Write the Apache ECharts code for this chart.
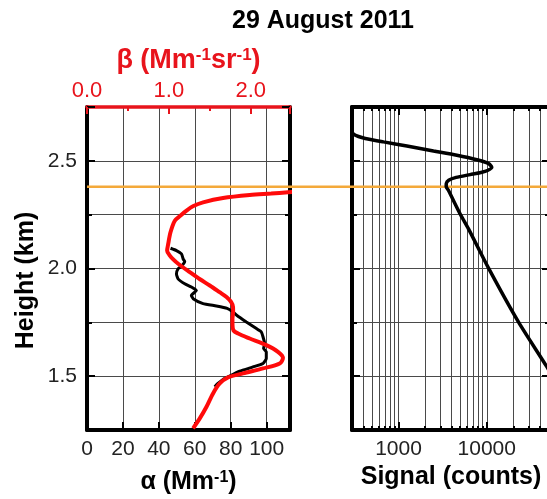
<!DOCTYPE html>
<html>
<head>
<meta charset="utf-8">
<script src="https://cdn.jsdelivr.net/npm/echarts@6/dist/echarts.min.js"></script>
<style>
  html, body { margin: 0; padding: 0; background: #fff; }
  #chart { width: 547px; height: 499px; }
</style>
</head>
<body>
<div id="chart"></div>
<script>
// Extinction coefficient profile, α (Mm^-1) against height (km)
const alphaHeight = [2.094, 2.083, 2.068, 2.045, 2.032, 2.011, 1.999, 1.975, 1.952, 1.929, 1.914, 1.898,
  1.875, 1.860, 1.837, 1.826, 1.815, 1.800, 1.782, 1.752, 1.721, 1.706, 1.682, 1.651, 1.628, 1.613,
  1.582, 1.559, 1.543, 1.523, 1.497, 1.485, 1.466, 1.451];
const alphaValue = [46.5, 49.8, 52.6, 53.5, 54.4, 52.6, 50.7, 49.8, 50.7, 54.4, 58.1, 60.9,
  58.1, 59.1, 64.6, 72.0, 78.0, 81.0, 83.5, 88.7, 94.3, 97.0, 98.0, 98.9, 98.3, 99.8,
  99.8, 98.0, 92.4, 85.0, 78.5, 75.7, 72.9, 71.1];

// Backscatter coefficient profile, β (Mm^-1 sr^-1)
const betaHeight = [2.358, 2.354, 2.348, 2.341, 2.327, 2.307, 2.290, 2.269, 2.245, 2.222, 2.168, 2.114,
  2.083, 2.060, 2.040, 2.022, 1.983, 1.950, 1.921, 1.890, 1.868, 1.845, 1.821, 1.800, 1.767, 1.735,
  1.712, 1.698, 1.675, 1.644, 1.613, 1.585, 1.559, 1.536, 1.513, 1.494, 1.466, 1.420, 1.358, 1.304, 1.258];
const betaValue = [2.60, 2.455, 2.25, 1.988, 1.662, 1.418, 1.30, 1.216, 1.14, 1.073, 1.020, 0.992,
  0.979, 1.012, 1.06, 1.114, 1.256, 1.38, 1.50, 1.62, 1.704, 1.76, 1.784, 1.785, 1.777, 1.778,
  1.79, 1.846, 1.988, 2.191, 2.333, 2.394, 2.354, 2.150, 1.906, 1.723, 1.622, 1.540, 1.460, 1.378, 1.296];

// Range-corrected lidar signal (counts)
const signalHeight = [2.640, 2.624, 2.613, 2.604, 2.588, 2.569, 2.546, 2.526, 2.505, 2.488, 2.470, 2.455,
  2.446, 2.436, 2.423, 2.410, 2.395, 2.381, 2.361, 2.253, 2.184, 2.003, 1.752, 1.544, 1.500];
const signalCounts = [290, 309, 352, 420, 676, 1245, 2490, 4580, 7720, 10400, 11400, 10200,
  8600, 6500, 4500, 3700, 3480, 3470, 3700, 5000, 6210, 10440, 22850, 47900, 55000];

// Cloud base height (km)
const cloudBase = [2.38];

// Axis ranges and labelled ticks
const heightRange = [1.25, 2.75];
const heightLabels = [1.5, 2.0, 2.5];
const alphaRange = [0, 113];
const alphaLabels = [0, 20, 40, 60, 80, 100];
const betaRange = [0, 2.48];
const betaLabels = [0, 1, 2];
const signalRange = [297, 52100];
const signalLabels = [1000, 10000];

const FONT = '"Liberation Sans", Arial, Helvetica, sans-serif';
const INK = '#000';
const LABEL = '#222';
const RED = '#ff0a0a';
const AXIS_RED = '#e8141c';
const ORANGE = '#f4a93a';
const GRID_LINE = { color: '#4a4a4a', width: 1 };

const zip = (xs, ys) => xs.map((x, i) => [x, ys[i]]);
const near = (v, list) => list.some(t => Math.abs(t - v) < 1e-6 * Math.max(1, Math.abs(t)));

const boldName = (size) => ({
  fontFamily: FONT,
  rich: {
    b: { fontFamily: FONT, fontWeight: 'bold', fontSize: size, color: 'inherit' },
    s: { fontFamily: FONT, fontWeight: 'bold', fontSize: Math.round(size * 0.64), verticalAlign: 'top' }
  }
});

function heightAxis(gridIndex, position, withLabels, withGrid) {
  return {
    type: 'value', gridIndex, position,
    min: heightRange[0], max: heightRange[1], splitNumber: 3,
    axisLine: { show: true, onZero: false, lineStyle: { color: INK, width: 4 } },
    axisTick: { show: true, inside: true, length: 8, lineStyle: { color: INK, width: 2 } },
    minorTick: { show: true, splitNumber: 2, length: 5, lineStyle: { color: INK, width: 2 } },
    splitLine: { show: withGrid, lineStyle: GRID_LINE },
    minorSplitLine: { show: withGrid, lineStyle: GRID_LINE },
    axisLabel: {
      show: withLabels, margin: 10, fontSize: 21, fontFamily: FONT, color: LABEL,
      showMinLabel: true, showMaxLabel: true,
      formatter: v => near(v, heightLabels) ? v.toFixed(1) : ''
    }
  };
}

function signalAxis(position, withLabels, withGrid) {
  return {
    type: 'log', logBase: 10, gridIndex: 1, position,
    min: signalRange[0], max: signalRange[1],
    axisLine: { show: true, onZero: false, lineStyle: { color: INK, width: 4 } },
    axisTick: { show: true, inside: true, length: 8, lineStyle: { color: INK, width: 2 } },
    minorTick: { show: true, splitNumber: 9, length: 4, lineStyle: { color: INK, width: 2 } },
    splitLine: { show: withGrid, lineStyle: GRID_LINE },
    minorSplitLine: { show: withGrid, lineStyle: GRID_LINE },
    axisLabel: {
      show: withLabels, margin: 9, fontSize: 21, fontFamily: FONT, color: LABEL,
      formatter: v => near(v, signalLabels) ? String(Math.round(v)) : ''
    }
  };
}

const option = {
  animation: false,
  backgroundColor: '#fff',
  title: {
    text: '29 August 2011',
    left: 318, top: 4, textAlign: 'center',
    textStyle: { fontFamily: FONT, fontWeight: 'bold', fontSize: 25, color: INK }
  },
  grid: [
    { left: 87, top: 107, width: 203, height: 323, outerBoundsMode: 'none' },
    { left: 352, top: 107, width: 198, height: 323, outerBoundsMode: 'none' },
    { left: 87, top: 107, width: 463, height: 323, outerBoundsMode: 'none' }
  ],
  xAxis: [
    {
      type: 'value', gridIndex: 0, position: 'bottom',
      min: alphaRange[0], max: alphaRange[1], interval: 20,
      axisLine: { show: true, onZero: false, lineStyle: { color: INK, width: 4 } },
      axisTick: { show: true, inside: true, length: 8, lineStyle: { color: INK, width: 2 } },
      splitLine: { show: true, lineStyle: GRID_LINE },
      axisLabel: {
        margin: 9, fontSize: 21, fontFamily: FONT, color: LABEL,
        formatter: v => near(v, alphaLabels) ? String(v) : ''
      },
      name: '{b|α (Mm}{s|-1}{b|)}',
      nameLocation: 'middle', nameGap: 40,
      nameTextStyle: boldName(25)
    },
    {
      type: 'value', gridIndex: 0, position: 'top',
      min: betaRange[0], max: betaRange[1], interval: 1,
      axisLine: { show: true, onZero: false, lineStyle: { color: AXIS_RED, width: 3.5 } },
      axisTick: { show: true, inside: true, length: 7, lineStyle: { color: AXIS_RED, width: 2 } },
      minorTick: { show: true, splitNumber: 2, length: 4, lineStyle: { color: AXIS_RED, width: 2 } },
      splitLine: { show: false },
      axisLabel: {
        margin: 5, fontSize: 22, fontFamily: FONT, color: AXIS_RED,
        formatter: v => near(v, betaLabels) ? v.toFixed(1) : ''
      },
      name: '{b|β (Mm}{s|-1}{b|sr}{s|-1}{b|)}',
      nameLocation: 'middle', nameGap: 33,
      nameTextStyle: Object.assign(boldName(27), { color: AXIS_RED })
    },
    Object.assign(signalAxis('bottom', true, true), {
      name: 'Signal (counts)', nameLocation: 'middle', nameGap: 29,
      nameTextStyle: { fontFamily: FONT, fontWeight: 'bold', fontSize: 25, color: INK }
    }),
    signalAxis('top', false, false),
    { type: 'value', gridIndex: 2, min: 0, max: 1, show: false }
  ],
  yAxis: [
    Object.assign(heightAxis(0, 'left', true, true), {
      name: 'Height (km)', nameLocation: 'middle', nameGap: 48, nameRotate: 90,
      nameTextStyle: { fontFamily: FONT, fontWeight: 'bold', fontSize: 25, color: INK, padding: [0, 24, 0, 0] }
    }),
    heightAxis(0, 'right', false, false),
    heightAxis(1, 'left', false, true),
    heightAxis(1, 'right', false, false),
    { type: 'value', gridIndex: 2, min: heightRange[0], max: heightRange[1], show: false }
  ],
  series: [
    {
      name: 'cloud base', type: 'line', xAxisIndex: 4, yAxisIndex: 4,
      data: [[0, cloudBase[0]], [1, cloudBase[0]]],
      showSymbol: false, silent: true, z: 2,
      lineStyle: { color: ORANGE, width: 2.5 }
    },
    {
      name: 'α', type: 'line', xAxisIndex: 0, yAxisIndex: 0,
      data: zip(alphaValue, alphaHeight),
      showSymbol: false, clip: true, z: 3, smooth: 0.15,
      lineStyle: { color: INK, width: 3 }
    },
    {
      name: 'β', type: 'line', xAxisIndex: 1, yAxisIndex: 0,
      data: zip(betaValue, betaHeight),
      showSymbol: false, clip: true, z: 4, smooth: 0.3,
      lineStyle: { color: RED, width: 4 }
    },
    {
      name: 'signal', type: 'line', xAxisIndex: 2, yAxisIndex: 2,
      data: zip(signalCounts, signalHeight),
      showSymbol: false, clip: true, z: 3, smooth: 0.25,
      lineStyle: { color: INK, width: 3.5 }
    }
  ]
};

const chart = echarts.init(document.getElementById('chart'), null, { renderer: 'canvas' });
chart.setOption(option);
</script>
</body>
</html>
